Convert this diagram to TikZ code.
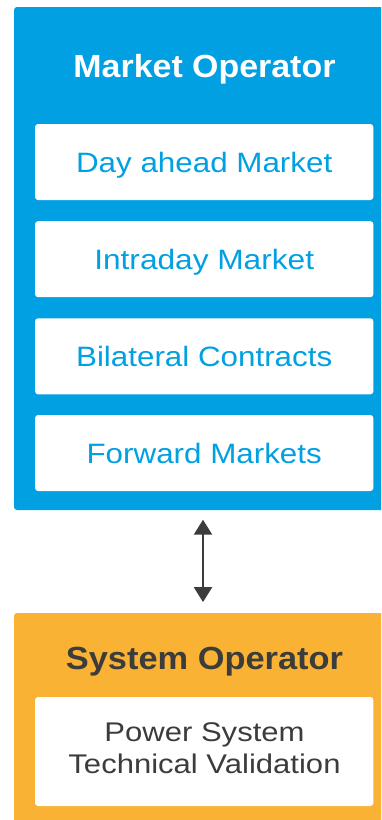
\documentclass[tikz,border=0pt]{standalone}
\usepackage{fontspec}
\setmainfont{Liberation Sans}
\usetikzlibrary{arrows.meta,calc}
\definecolor{mblue}{RGB}{0,160,227}
\definecolor{sorange}{RGB}{249,178,51}
\definecolor{dgray}{RGB}{60,60,59}
\newcommand{\hs}[2]{\scalebox{#1}[1]{#2}}
\begin{document}
\begin{tikzpicture}[x=1pt,y=-1pt,
  panel/.style={rounded corners=3pt, inner sep=0pt, draw=none},
  title/.style={font=\fontsize{32}{38}\selectfont\bfseries, text height=23pt, text depth=0pt, inner sep=0pt},
  item/.style={fill=white, rounded corners=3pt, draw=none, minimum width=338.3pt, minimum height=76pt, inner sep=0pt,
    text=mblue, font=\fontsize{28}{34}\selectfont, text height=20pt, text depth=0pt},
  pstext/.style={text=dgray, font=\fontsize{27}{32}\selectfont, anchor=base, inner sep=0pt},
  link/.style={draw=dgray, line width=2.3pt, {Triangle[width=18pt,length=15pt]}-{Triangle[width=18pt,length=15pt]}}
]
\useasboundingbox (0,0) rectangle (381,820);
\clip (0,0) rectangle (381,820);
\fill[white] (0,0) rectangle (381,820);
% panels
\node[panel, fill=mblue, minimum width=376pt, minimum height=503pt] (mo) at (202,258.5) {};
\node[panel, fill=sorange, minimum width=376pt, minimum height=217pt] (so) at (202,721.5) {};
% titles
\node[title, text=white] (mot) at (204.5,65.7) {\hs{1.06}{Market Operator}};
\node[title, text=dgray] (sot) at (204.5,657.5) {\hs{1.075}{System Operator}};
% market items
\node[item] (day) at (204.2,162) {\hs{1.12}{Day ahead Market}};
\node[item] (intra) at (204.2,259.2) {\hs{1.13}{Intraday Market}};
\node[item] (bil) at (204.2,356.3) {\hs{1.12}{Bilateral Contracts}};
\node[item] (fwd) at (204.2,453) {\hs{1.12}{Forward Markets}};
% system item
\node[item, minimum height=109pt] (psv) at (204.2,751.5) {};
\node[pstext] (ps1) at (204.5,741) {\hs{1.15}{Power System}};
\node[pstext] (ps2) at (204.5,773.5) {\hs{1.15}{Technical Validation}};
% connector
\draw[link] ($(mo.south)+(1,9.5)$) -- ($(so.north)+(1,-10.7)$);
\end{tikzpicture}
\end{document}
